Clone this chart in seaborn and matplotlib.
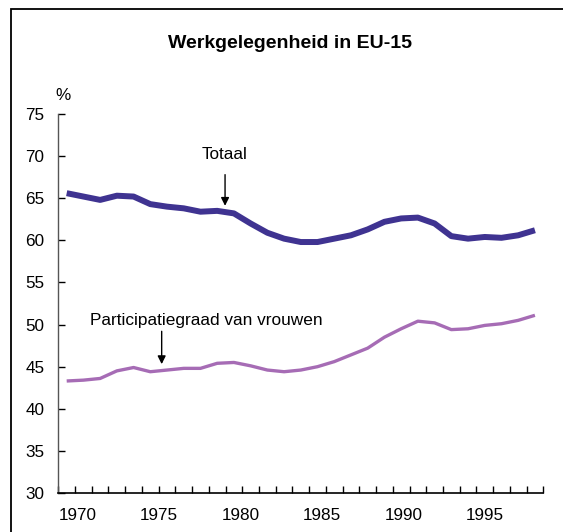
import numpy as np
import pandas as pd
import matplotlib
matplotlib.use("Agg")
import matplotlib.pyplot as plt
import seaborn as sns

# data (EU-15, % of working-age population)
years = list(range(1970, 1999))
totaal = [65.6, 65.2, 64.8, 65.3, 65.2, 64.3, 64.0, 63.8, 63.4, 63.5,
          63.2, 62.0, 60.9, 60.2, 59.8, 59.8, 60.2, 60.6, 61.3, 62.2,
          62.6, 62.7, 62.0, 60.5, 60.2, 60.4, 60.3, 60.6, 61.2]
vrouwen = [43.3, 43.4, 43.6, 44.5, 44.9, 44.4, 44.6, 44.8, 44.8, 45.4,
           45.5, 45.1, 44.6, 44.4, 44.6, 45.0, 45.6, 46.4, 47.2, 48.5,
           49.5, 50.4, 50.2, 49.4, 49.5, 49.9, 50.1, 50.5, 51.1]
label_years = [1970, 1975, 1980, 1985, 1990, 1995]
y_ticks = [30, 35, 40, 45, 50, 55, 60, 65, 70, 75]

df = pd.DataFrame({"jaar": years, "Totaal": totaal, "Vrouwen": vrouwen})

sns.set_style("ticks")
plt.rcParams["font.family"] = ["Liberation Sans", "DejaVu Sans"]
plt.rcParams["text.color"] = "black"
plt.rcParams["xtick.color"] = "black"
plt.rcParams["ytick.color"] = "black"

fig = plt.figure(figsize=(5.63, 5.32), dpi=100)
ax = fig.add_axes([0.1036, 0.0733, 0.8614, 0.7124])

sns.lineplot(data=df, x="jaar", y="Totaal", ax=ax, color="#3f3391",
             linewidth=4.3, solid_capstyle="butt")
sns.lineplot(data=df, x="jaar", y="Vrouwen", ax=ax, color="#a66cb5",
             linewidth=2.4, solid_capstyle="butt")

ax.set_xlim(years[0] - 0.5, years[-1] + 0.5)
ax.set_ylim(30, 75)
ax.set_yticks(y_ticks)
ax.set_yticklabels([str(v) for v in y_ticks], fontsize=12.3, color="black")

# labels sit a little right of the category centres in the original
ax.set_xticks([y + 0.65 - (y - 1970) * 0.025 for y in label_years])
ax.set_xticklabels([str(y) for y in label_years], fontsize=12.3, color="black")
ax.tick_params(axis="x", which="major", length=0, pad=11)
ax.set_xticks(np.arange(years[0] - 0.5, years[-1] + 1), minor=True)
ax.tick_params(axis="x", which="minor", direction="in", length=5, width=1, color="black")
ax.tick_params(axis="y", direction="in", length=5, width=1, pad=10, color="black")

ax.set_xlabel("")
ax.set_ylabel("")
sns.despine(ax=ax)
ax.spines["left"].set_color("#555555")
ax.spines["bottom"].set_color("black")
ax.spines["left"].set_linewidth(1)
ax.spines["bottom"].set_linewidth(1.2)

arrow = dict(arrowstyle="-|>", color="black", lw=1, mutation_scale=12, shrinkA=0, shrinkB=0)
ax.text(1979.47, 69.3, "Totaal", ha="center", va="bottom", fontsize=12.3)
ax.annotate("", xy=(1979.47, 64.1), xytext=(1979.47, 67.8), arrowprops=arrow)
ax.text(1971.4, 50.5, "Participatiegraad van vrouwen", ha="left", va="center", fontsize=12.4)
ax.annotate("", xy=(1975.68, 45.3), xytext=(1975.68, 49.2), arrowprops=arrow)

fig.text(290 / 563, 1 - 43 / 532, "Werkgelegenheid in EU-15", ha="center", va="center",
         fontsize=14, fontweight="bold")
fig.text(63 / 563, 1 - 96 / 532, "%", ha="center", va="center", fontsize=12.3)

# outer frame, cut off at the right and bottom like the source image
frame = plt.Rectangle((11 / 563, -0.1), 1.2, 1.1 - 9 / 532, transform=fig.transFigure,
                      fill=False, edgecolor="black", linewidth=1.3)
fig.add_artist(frame)

fig.savefig("out.png", dpi=100)
